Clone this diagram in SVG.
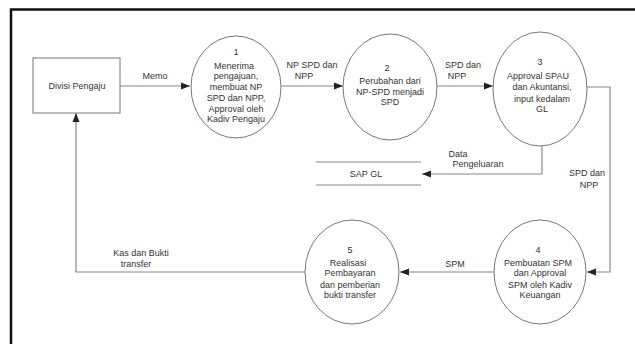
<svg xmlns="http://www.w3.org/2000/svg" width="635" height="344" viewBox="0 0 635 344">
<style>
text{font-family:"Liberation Sans",Arial,sans-serif;font-size:9px;fill:#333;text-anchor:middle}
.node{fill:#fff;stroke:#777;stroke-width:1}
.conn{fill:none;stroke:#888;stroke-width:1.2}
.store{stroke:#888;stroke-width:1.2}
</style>
<defs>
<marker id="arr" markerWidth="10" markerHeight="8" refX="9" refY="4" orient="auto" markerUnits="userSpaceOnUse">
<path d="M0,0.5 L9,4 L0,7.5 Z" fill="#222"/>
</marker>
</defs>
<rect width="635" height="344" fill="#fff"/>
<path d="M11,344 V9.5 H635" fill="none" stroke="#111" stroke-width="2.5"/>

<g id="connectors">
<path class="conn" d="M120,86 H190" marker-end="url(#arr)"/>
<path class="conn" d="M281,86 H343" marker-end="url(#arr)"/>
<path class="conn" d="M437,86 H493" marker-end="url(#arr)"/>
<path class="conn" d="M587,87 H610 V272 H587" marker-end="url(#arr)"/>
<path class="conn" d="M542,145 V174 H422" marker-end="url(#arr)"/>
<path class="conn" d="M494,272 H400" marker-end="url(#arr)"/>
<path class="conn" d="M305,272 H76 V113" marker-end="url(#arr)"/>
<text x="155" y="79">Memo</text>
<text x="312" y="68">NP SPD dan</text>
<text x="304" y="79">NPP</text>
<text x="463" y="68">SPD dan</text>
<text x="457" y="79">NPP</text>
<text x="458" y="157">Data</text>
<text x="478" y="167">Pengeluaran</text>
<text x="587" y="176">SPD dan</text>
<text x="589" y="188">NPP</text>
<text x="455" y="267">SPM</text>
<text x="141" y="256">Kas dan Bukti</text>
<text x="136" y="267">transfer</text>
</g>

<g id="divisi-pengaju">
<rect class="node" x="33" y="58" width="87" height="55"/>
<text x="77" y="89">Divisi Pengaju</text>
</g>

<g id="proses-1">
<ellipse class="node" cx="236" cy="87" rx="45" ry="51"/>
<text x="236" y="55">1</text>
<text x="234" y="69">Menerima</text>
<text x="236" y="79">pengajuan,</text>
<text x="236" y="90">membuat NP</text>
<text x="236" y="101">SPD dan NPP,</text>
<text x="236" y="112">Approval oleh</text>
<text x="236" y="122">Kadiv Pengaju</text>
</g>

<g id="proses-2">
<ellipse class="node" cx="390" cy="87" rx="47" ry="53"/>
<text x="387" y="71">2</text>
<text x="390" y="84">Perubahan dari</text>
<text x="390" y="95">NP-SPD menjadi</text>
<text x="390" y="105">SPD</text>
</g>

<g id="proses-3">
<ellipse class="node" cx="540" cy="89" rx="47" ry="57"/>
<text x="540" y="65">3</text>
<text x="538" y="79">Approval SPAU</text>
<text x="542" y="90">dan Akuntansi,</text>
<text x="542" y="102">input kedalam</text>
<text x="542" y="112">GL</text>
</g>

<g id="sap-gl">
<line class="store" x1="316" y1="162" x2="421" y2="162"/>
<line class="store" x1="316" y1="185" x2="421" y2="185"/>
<text x="366" y="177">SAP GL</text>
</g>

<g id="proses-4">
<ellipse class="node" cx="540" cy="272" rx="46" ry="52"/>
<text x="538" y="253">4</text>
<text x="538" y="266">Pembuatan SPM</text>
<text x="540" y="276">dan Approval</text>
<text x="540" y="288">SPM oleh Kadiv</text>
<text x="540" y="298">Keuangan</text>
</g>

<g id="proses-5">
<ellipse class="node" cx="352" cy="272" rx="47" ry="52"/>
<text x="350" y="253">5</text>
<text x="348" y="266">Realisasi</text>
<text x="350" y="276">Pembayaran</text>
<text x="350" y="288">dan pemberian</text>
<text x="350" y="298">bukti transfer</text>
</g>
</svg>
